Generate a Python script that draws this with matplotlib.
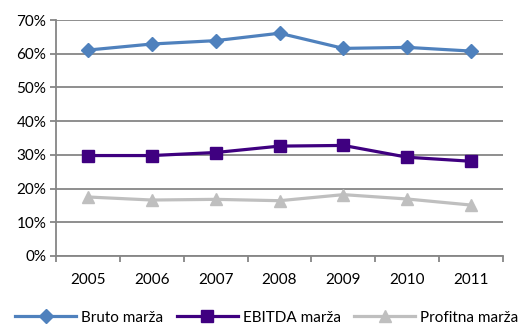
import matplotlib
matplotlib.use("Agg")
import matplotlib.pyplot as plt
from matplotlib.ticker import FixedLocator, PercentFormatter

years = ["2005", "2006", "2007", "2008", "2009", "2010", "2011"]
bruto = [61.1, 62.9, 63.9, 66.1, 61.6, 61.9, 60.8]
ebitda = [29.8, 29.8, 30.7, 32.6, 32.8, 29.3, 28.1]
profitna = [17.5, 16.6, 16.8, 16.4, 18.2, 16.9, 15.1]
series_names = ["Bruto marža", "EBITDA marža", "Profitna marža"]

plt.rcParams["font.family"] = ["Lato", "DejaVu Sans"]
plt.rcParams["font.size"] = 11

fig = plt.figure(figsize=(5.23, 3.24), dpi=100)
ax = fig.add_axes([0.107, 0.21, 0.855, 0.728])

x = list(range(len(years)))
grid_col = "#868686"

ax.plot(x, bruto, color="#4F81BD", lw=2.3, marker="D", ms=7, label=series_names[0])
ax.plot(x, ebitda, color="#3F0080", lw=2.3, marker="s", ms=8, label=series_names[1])
ax.plot(x, profitna, color="#BFBFBF", lw=2.3, marker="^", ms=8, label=series_names[2])

ax.set_ylim(0, 70)
ax.set_xlim(-0.5, len(years) - 0.5)
ax.yaxis.set_major_locator(FixedLocator(range(0, 71, 10)))
ax.yaxis.set_major_formatter(PercentFormatter(decimals=0))
ax.set_xticks(x)
ax.set_xticklabels(years)
ax.xaxis.set_minor_locator(FixedLocator([i - 0.5 for i in range(len(years) + 1)]))

ax.grid(axis="y", color=grid_col, lw=1.3)
ax.set_axisbelow(True)
for side in ("top", "right"):
    ax.spines[side].set_visible(False)
for side in ("left", "bottom"):
    ax.spines[side].set_color(grid_col)
    ax.spines[side].set_linewidth(1.3)

ax.tick_params(axis="y", length=4, color=grid_col, width=1.3, pad=3, labelcolor="#000000")
ax.tick_params(axis="x", which="major", length=0, pad=12, labelcolor="#000000")
ax.tick_params(axis="x", which="minor", length=4, color=grid_col, width=1.3)

fig.legend(loc="lower center", bbox_to_anchor=(0.51, -0.03), ncol=3, frameon=False,
           handlelength=4.0, handletextpad=0.3, columnspacing=0.9, borderaxespad=0.2)

fig.savefig("out.png", dpi=100)
